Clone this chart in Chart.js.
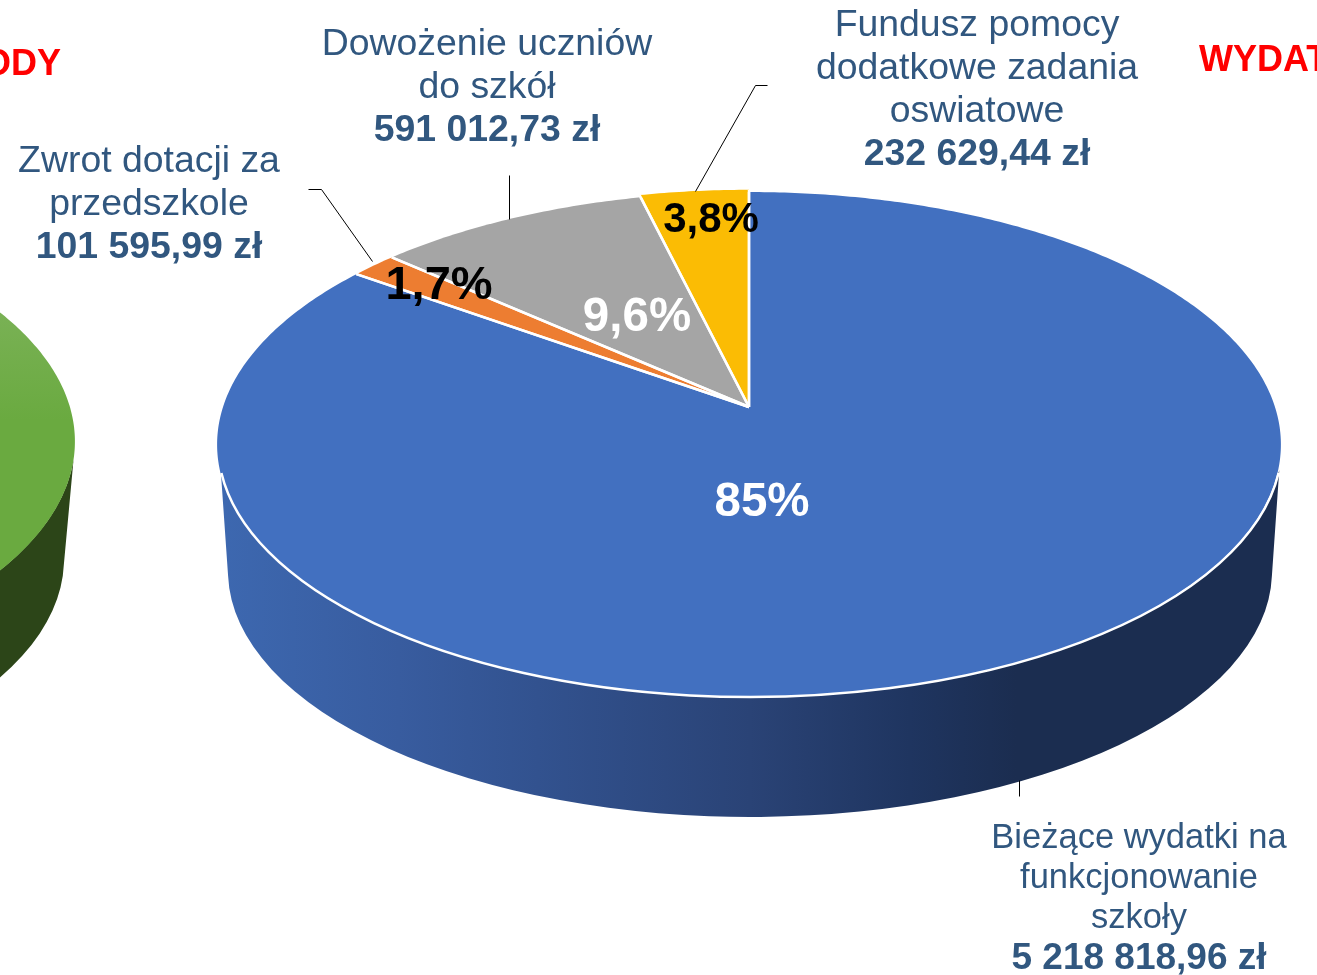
<!DOCTYPE html>
<html lang="pl">
<head>
<meta charset="utf-8">
<title>Wydatki</title>
<style>
html,body{margin:0;padding:0;background:#fff;width:1317px;height:975px;overflow:hidden}
canvas{position:absolute;left:0;top:0}
</style>
<script src="https://cdn.jsdelivr.net/npm/chart.js@4"></script>
</head>
<body>
<canvas id="left" width="1317" height="975"></canvas>
<canvas id="main" width="1317" height="975"></canvas>
<script>
// ---- data ----
const categories = ["Bieżące wydatki na funkcjonowanie szkoły", "Zwrot dotacji za przedszkole", "Dowożenie uczniów do szkół", "Fundusz pomocy dodatkowe zadania oswiatowe"];
const values = [5218818.96, 101595.99, 591012.73, 232629.44];
const percentLabels = ["85%", "1,7%", "9,6%", "3,8%"];
const amountLabels = ["5 218 818,96 zł", "101 595,99 zł", "591 012,73 zł", "232 629,44 zł"];
const nameLines = [["Bieżące wydatki na", "funkcjonowanie", "szkoły"], ["Zwrot dotacji za", "przedszkole"], ["Dowożenie uczniów", "do szkół"], ["Fundusz pomocy", "dodatkowe zadania", "oswiatowe"]];
const sliceColors = ["#4270C0", "#ED7D31", "#A5A5A5", "#FBBC04"];
const leftCategories = ["Dochody"];
const leftValues = [100];
const leftTitle = "DOCHODY";
const rightTitle = "WYDATKI";

// ---- styling and layout ----
const FONT = '"Liberation Sans", Arial, sans-serif';
const TEXT = "#31577F";
const labelLayout = [
  {cx: 1139, base: [848, 888, 928, 969], size: 34.5, bold: 37},
  {cx: 149, base: [172, 215, 258], size: 37.4, bold: 37.4},
  {cx: 487, base: [55, 98, 141], size: 37.4, bold: 37.4},
  {cx: 977, base: [36, 79, 122, 165], size: 37.4, bold: 37.4}
];
const percentLayout = [
  {x: 762, y: 516, size: 47.5, color: "#fff"},
  {x: 439, y: 299, size: 47, color: "#000"},
  {x: 637, y: 331, size: 47.5, color: "#fff"},
  {x: 711, y: 232, size: 42, color: "#000"}
];
const leaderLines = [
  [[1019, 780], [1019, 796]],
  [[308, 189], [321, 189], [372, 261]],
  [[509, 175], [509, 219]],
  [[767, 85], [755, 85], [695, 191]]
];
const mainPie = {ax: 749, ay: 407, a: 246.9, c: -0.1485, A: 526, cy: 444.5, rx: 532, ry: 252.5, cx: 750,
  bcx: 750, bcy: 571, brx: 522, bry: 246, attach: 470, scale: [1, 1, 1, 1.012]};
const leftPie = {ax: -458, ay: 404, a: 246.9, c: -0.1485, A: 527, cy: 441, rx: 533, ry: 252.5, cx: -458,
  bcx: -458, bcy: 559, brx: 522, bry: 247, attach: 460, scale: [1]};

function project(g, ang, k) {
  const u = Math.cos(ang) * k, v = Math.sin(ang) * k, d = 1 + g.c * v;
  return [g.ax + g.A * u / d, g.ay + g.a * v / d];
}
function sliceOutline(ctx, g, el, k) {
  ctx.moveTo(g.ax, g.ay);
  const n = Math.max(4, Math.ceil((el.endAngle - el.startAngle) * 90));
  for (let i = 0; i <= n; i++) {
    const p = project(g, el.startAngle + (el.endAngle - el.startAngle) * i / n, k);
    ctx.lineTo(p[0], p[1]);
  }
  ctx.closePath();
}
function wallPath(ctx, g) {
  const s = Math.asin((g.attach - g.cy) / g.ry);
  const b = Math.asin(0.02);
  ctx.beginPath();
  ctx.ellipse(g.cx, g.cy, g.rx, g.ry, 0, s, Math.PI - s, false);
  ctx.lineTo(g.bcx - g.brx * Math.cos(b), g.bcy + g.bry * Math.sin(b));
  ctx.ellipse(g.bcx, g.bcy, g.brx, g.bry, 0, Math.PI - b, b, true);
  ctx.closePath();
}

const pie3d = {
  id: "pie3d",
  beforeDatasetDraw(chart, args, opts) {
    const ctx = chart.ctx, g = opts.geometry, els = args.meta.data;
    ctx.save();
    // side wall
    let grad;
    if (opts.wallStops.length > 1) {
      grad = ctx.createLinearGradient(g.cx - g.rx, 0, g.cx + g.rx, 0);
      opts.wallStops.forEach(s => grad.addColorStop(s[0], s[1]));
    } else grad = opts.wallStops[0][1];
    ctx.fillStyle = grad;
    wallPath(ctx, g);
    ctx.fill();
    // top face, one wedge per library arc
    els.forEach((el, i) => {
      const p = el.getProps(["startAngle", "endAngle"], true);
      ctx.beginPath();
      sliceOutline(ctx, g, p, g.scale[i]);
      if (opts.topGradient) {
        const t = ctx.createLinearGradient(0, 300, 0, 420);
        t.addColorStop(0, opts.topGradient[0]);
        t.addColorStop(1, opts.topGradient[1]);
        ctx.fillStyle = t;
      } else ctx.fillStyle = chart.data.datasets[0].backgroundColor[i];
      ctx.fill();
    });
    if (opts.whiteEdges) {
      ctx.strokeStyle = "#fff";
      ctx.lineWidth = 2.5;
      ctx.lineJoin = "round";
      els.forEach((el, i) => {
        const p = el.getProps(["startAngle", "endAngle"], true);
        [p.startAngle, p.endAngle].forEach(a => {
          const q = project(g, a, g.scale[i]);
          ctx.beginPath();
          ctx.moveTo(g.ax, g.ay);
          ctx.lineTo(q[0], q[1]);
          ctx.stroke();
        });
      });
      const s = Math.asin((g.attach + 3 - g.cy) / g.ry);
      ctx.beginPath();
      ctx.ellipse(g.cx, g.cy, g.rx, g.ry, 0, s, Math.PI - s, false);
      ctx.stroke();
    }
    ctx.restore();
    return false;
  }
};

const pieText = {
  id: "pieText",
  afterDatasetsDraw(chart) {
    const ctx = chart.ctx;
    ctx.save();
    ctx.strokeStyle = "#000";
    ctx.lineWidth = 1;
    leaderLines.forEach(l => {
      ctx.beginPath();
      l.forEach((p, i) => i ? ctx.lineTo(p[0] + .5, p[1] + .5) : ctx.moveTo(p[0] + .5, p[1] + .5));
      ctx.stroke();
    });
    ctx.textAlign = "center";
    ctx.textBaseline = "alphabetic";
    percentLabels.forEach((t, i) => {
      const l = percentLayout[i];
      ctx.font = "bold " + l.size + "px " + FONT;
      ctx.fillStyle = l.color;
      ctx.fillText(t, l.x, l.y);
    });
    ctx.fillStyle = TEXT;
    nameLines.forEach((lines, i) => {
      const l = labelLayout[i];
      ctx.font = l.size + "px " + FONT;
      lines.forEach((t, j) => ctx.fillText(t, l.cx, l.base[j]));
      ctx.font = "bold " + l.bold + "px " + FONT;
      ctx.fillText(amountLabels[i], l.cx, l.base[lines.length]);
    });
    ctx.fillStyle = "#FF0000";
    ctx.font = "bold 36px " + FONT;
    ctx.textAlign = "right";
    ctx.fillText(leftTitle, 61, 75);
    ctx.textAlign = "left";
    ctx.fillText(rightTitle, 1199, 71);
    ctx.restore();
  }
};

const base = (labels, data, colors, plugin) => ({
  type: "pie",
  data: {labels, datasets: [{data, backgroundColor: colors, borderWidth: 0}]},
  options: {
    responsive: false, animation: false, rotation: 0,
    events: [],
    plugins: {legend: {display: false}, tooltip: {enabled: false}, title: {display: false}, pie3d: plugin}
  },
  plugins: [pie3d]
});

new Chart(document.getElementById("left"), base(leftCategories, leftValues, ["#6AA93F"], {
  geometry: leftPie, wallStops: [[0, "#2C4518"]], topGradient: ["#7BB257", "#6AAA40"], whiteEdges: false
}));

const mainCfg = base(categories, values, sliceColors, {
  geometry: mainPie,
  wallStops: [[0, "#3D68B0"], [0.17, "#385C9F"], [0.3, "#32528F"], [0.5, "#2A4376"], [0.65, "#1F3560"], [0.75, "#1B2D50"], [1, "#1B2D50"]],
  whiteEdges: true
});
mainCfg.plugins.push(pieText);
new Chart(document.getElementById("main"), mainCfg);
</script>
</body>
</html>
